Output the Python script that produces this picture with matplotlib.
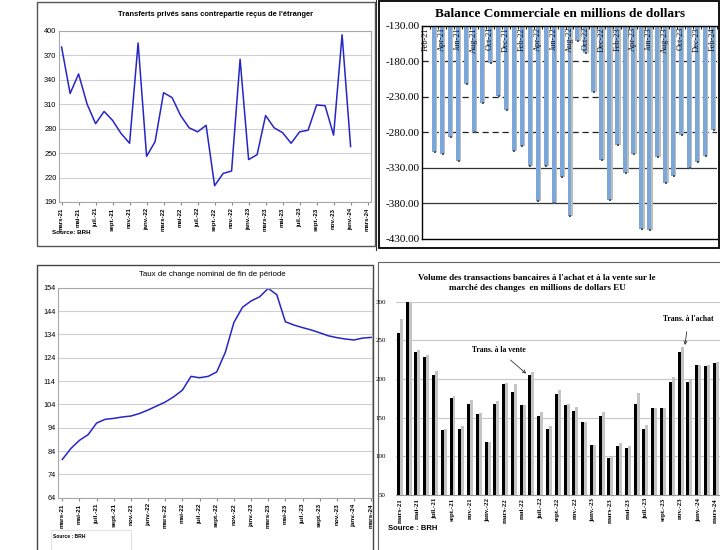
import numpy as np
import matplotlib
matplotlib.use("Agg")
import matplotlib.pyplot as plt
from matplotlib.patches import Rectangle

# ---- data ----
# transferts prives, mars-21 .. janv-24
transferts = [380, 323, 347, 310, 286, 301, 290, 274, 262, 385,
              246, 264, 324, 318, 296, 281, 276, 284, 210, 225, 228, 365,
              242, 248, 296, 281, 275, 262, 276, 278, 309, 308, 272, 395,
              258]

# taux de change nominal, mars-21 .. mars-24
taux = [80.4, 85.1, 88.6, 91.0, 96.0, 97.6, 98.0, 98.6, 99.0, 100.1,
        101.6, 103.3, 105.0, 107.3, 110.1, 116.0, 115.4, 116.0, 117.9, 126.3, 139.1, 145.6,
        148.3, 150.1, 153.7, 151.0, 139.4, 138.0, 136.9, 135.9, 134.7, 133.4, 132.6, 132.0,
        131.6, 132.4, 132.7]

# balance commerciale, Feb-21 .. Feb-24 (Feb-21 not visible)
balance = [np.nan,
           -308, -310, -286, -321, -212, -280, -239, -182, -229, -249,
           -307, -299, -328, -377, -328, -380, -343, -398, -151, -168, -223, -319,
           -376, -298, -337, -311, -416, -418, -315, -351, -342, -284, -330, -322,
           -313, -276]

# volume des transactions, mars-21 .. mars-24
achat = [260, 300, 235, 229, 205, 134.5, 175, 136, 168, 154.5,
         118, 168, 193.5, 183.5, 166, 205, 152, 136, 181, 166, 158, 144.5,
         115, 152, 98, 114, 111, 168, 136, 162, 163, 196, 235.5, 195.5,
         218, 216.5, 221]
vente = [277, 300, 237, 231, 210, 135, 178.5, 139, 173, 156.5,
         119, 171, 195, 193.5, 166, 209.5, 157, 139, 186, 167.5, 164, 144.5,
         115, 157, 100, 117, 113.5, 182.5, 140, 162, 163, 202, 242, 200,
         218, 218, 222]

fr_labels = ["mars-21", "mai-21", "juil.-21", "sept.-21", "nov.-21",
             "janv.-22", "mars-22", "mai-22", "juil.-22", "sept.-22", "nov.-22",
             "janv.-23", "mars-23", "mai-23", "juil.-23", "sept.-23", "nov.-23",
             "janv.-24", "mars-24"]
en_labels = ["Feb-21", "Apr-21", "Jun-21", "Aug-21", "Oct-21", "Dec-21",
             "Feb-22", "Apr-22", "Jun-22", "Aug-22", "Oct-22", "Dec-22",
             "Feb-23", "Apr-23", "Jun-23", "Aug-23", "Oct-23", "Dec-23", "Feb-24"]

SANS = "Liberation Sans"
SERIF = "Liberation Serif"
BLUE = "#2626c8"

W, H = 720, 550
fig = plt.figure(figsize=(7.2, 5.5), dpi=100)


def px_axes(l, t, r, b):
    return fig.add_axes([l / W, 1 - b / H, (r - l) / W, (b - t) / H])


# background in pixel coords for frames and titles
bg = fig.add_axes([0, 0, 1, 1], zorder=-1)
bg.set_xlim(0, W)
bg.set_ylim(H, 0)
bg.axis("off")

bg.add_patch(Rectangle((37, 2), 338, 244, fill=False, ec="#555555", lw=1))
bg.add_patch(Rectangle((379, 1), 340, 247, fill=False, ec="black", lw=1.3))
bg.plot([376, 376], [0, 250], color="#333333", lw=0.8)
bg.plot([37, 37, 373, 373], [550, 264.5, 264.5, 550], color="#444444", lw=1)
bg.plot([378, 378, 720], [550, 262, 262], color="#666666", lw=0.8)
bg.add_patch(Rectangle((50.7, 530), 80, 22, fill=False, ec="#dddddd", lw=0.6))

bg.text(216, 14, "Transferts privés sans contrepartie reçus de l'étranger",
        ha="center", va="center", fontsize=5.4, fontweight="bold", family=SANS)
bg.text(560, 14, "Balance Commerciale en millions de dollars",
        ha="center", va="center", fontsize=9.6, fontweight="bold", family=SERIF)
bg.text(212.5, 275, "Taux de change nominal de fin de période",
        ha="center", va="center", fontsize=5.7, family=SANS)
bg.text(537, 283, "Volume des transactions bancaires à l'achat et à la vente sur le\n"
        "marché des changes  en millions de dollars EU",
        ha="center", va="center", fontsize=6.5, fontweight="bold", family=SERIF,
        linespacing=1.35)
bg.text(52, 233, "Source: BRH", ha="left", va="center", fontsize=4.5,
        fontweight="bold", family=SANS)
bg.text(53, 536, "Source : BRH", ha="left", va="center", fontsize=3.6,
        fontweight="bold", family=SANS)
bg.text(388, 528, "Source : BRH", ha="left", va="center", fontsize=5.5,
        fontweight="bold", family=SANS)


def style_line_axes(ax):
    ax.grid(axis="y", color="#d0d0d0", lw=0.8)
    ax.set_axisbelow(True)
    for s in ax.spines.values():
        s.set_color("#a8a8a8")
        s.set_linewidth(0.8)
    ax.tick_params(axis="y", length=0, labelsize=5.3, pad=2)
    ax.tick_params(axis="x", length=2.5, color="#888888", labelsize=4.4, pad=1.5)
    for lab in ax.get_xticklabels():
        lab.set_fontweight("bold")
        lab.set_family(SANS)
        lab.set_rotation(90)
    for lab in ax.get_yticklabels():
        lab.set_family(SANS)


# ---- panel 1: transferts ----
ax1 = px_axes(59.3, 30.7, 371, 202)
ax1.plot(np.arange(len(transferts)), transferts, color=BLUE, lw=1.1)
ax1.set_xlim(-0.27, 36.4)
ax1.set_ylim(190, 400)
ax1.set_yticks(range(190, 401, 30))
ax1.set_xticks(range(0, 37, 2))
ax1.set_xticklabels(fr_labels)
style_line_axes(ax1)

# ---- panel 3: taux de change ----
ax3 = px_axes(58.3, 287.7, 372, 497.7)
ax3.plot(np.arange(len(taux)), taux, color=BLUE, lw=1.1)
ax3.set_xlim(-0.47, 36.1)
ax3.set_ylim(64, 154)
ax3.set_yticks(range(64, 155, 10))
ax3.set_xticks(range(0, 37, 2))
ax3.set_xticklabels(fr_labels)
style_line_axes(ax3)
ax3.tick_params(axis="x", labelsize=4.6)

# ---- panel 2: balance commerciale ----
ax2 = px_axes(422, 26, 717, 238.7)
x2 = np.arange(len(balance))
bal = np.array(balance, dtype=float)
top = -130
ax2.bar(x2 + 0.17, bal - top, bottom=top, width=0.5, color="#bdbdbd", zorder=1)
ax2.bar(x2, bal - top, bottom=top, width=0.5, color="#7ba8d9", zorder=2)
ax2.scatter(x2 + 0.1, bal, marker="s", s=3, color="#555555", zorder=3, lw=0)
ax2.set_xlim(-0.5, len(balance) - 0.5)
ax2.set_ylim(-430, -130)
for v in [-180, -230, -280]:
    ax2.axhline(v, color="#222222", lw=0.9, ls=(0, (5, 3)), zorder=0)
for v in [-330, -380]:
    ax2.axhline(v, color="#333333", lw=0.9, zorder=0)
ax2.set_yticks(range(-430, -129, 50))
ax2.set_yticklabels([f"{v:.2f}" for v in range(-430, -129, 50)])
ax2.tick_params(axis="y", length=0, labelsize=8, pad=2)
for lab in ax2.get_yticklabels():
    lab.set_family(SERIF)
ax2.xaxis.tick_top()
ax2.set_xticks(np.arange(-0.5, len(balance), 1))
ax2.set_xticklabels([])
ax2.tick_params(axis="x", direction="in", length=2.5, color="#222222")
for i, lab in zip(range(0, len(balance), 2), en_labels):
    ax2.text(i, -131.5, lab, rotation=90, ha="center", va="top",
             fontsize=6, family=SERIF, zorder=4, color="#111111")
for s in ["left", "top", "bottom"]:
    ax2.spines[s].set_color("black")
    ax2.spines[s].set_linewidth(1)
ax2.spines["right"].set_visible(False)

# ---- panel 4: volume des transactions ----
ax4 = px_axes(395.5, 301.7, 720, 495)
x4 = np.arange(len(achat))
ax4.bar(x4 + 0.17, vente, width=0.34, color="#c4c4c4", zorder=2)
ax4.bar(x4 - 0.17, achat, width=0.34, color="black", zorder=3)
ax4.set_xlim(-0.5, len(achat) - 0.5)
ax4.set_ylim(50, 300)
ax4.set_yticks(range(50, 301, 50))
ax4.grid(axis="y", color="#c8c8c8", lw=0.8)
ax4.set_axisbelow(True)
ax4.set_xticks(range(0, len(achat), 2))
ax4.set_xticklabels(fr_labels)
ax4.tick_params(axis="y", length=0, labelsize=5, pad=7)
ax4.tick_params(axis="x", length=0, labelsize=5, pad=2)
for lab in ax4.get_xticklabels():
    lab.set_fontweight("bold")
    lab.set_family(SERIF)
    lab.set_rotation(90)
for lab in ax4.get_yticklabels():
    lab.set_family(SERIF)
for s in ["left", "top", "right"]:
    ax4.spines[s].set_visible(False)
ax4.spines["bottom"].set_color("#999999")

ax4.annotate("Trans. à la vente", xy=(14.4, 207), xytext=(11.25, 238),
             ha="center", va="center", fontsize=5.5, fontweight="bold", family=SERIF,
             arrowprops=dict(arrowstyle="->", lw=0.6, color="#333333",
                             shrinkA=4, shrinkB=0))
ax4.annotate("Trans. à l'achat", xy=(32.5, 244), xytext=(32.9, 277),
             ha="center", va="center", fontsize=5.5, fontweight="bold", family=SERIF,
             arrowprops=dict(arrowstyle="->", lw=0.6, color="#333333",
                             shrinkA=4, shrinkB=0))

fig.savefig("out.png", dpi=100)
